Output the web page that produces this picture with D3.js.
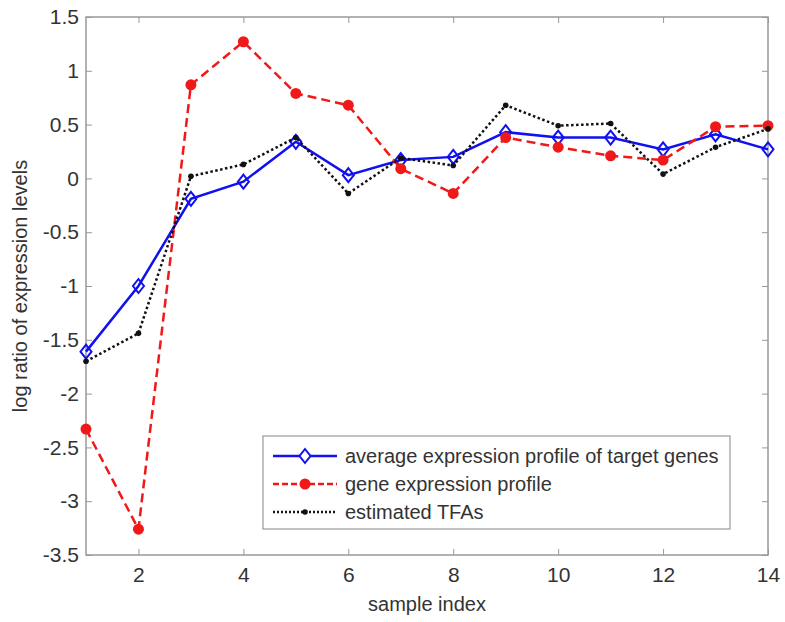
<!DOCTYPE html>
<html>
<head>
<meta charset="utf-8">
<script src="https://cdn.jsdelivr.net/npm/d3@7"></script>
<style>
  body { margin: 0; background: #fff; }
  text { font-family: "Liberation Sans", Arial, sans-serif; fill: #333; }
</style>
</head>
<body>
<div id="chart"></div>
<script>
// sample indices
var samples = [1, 2, 3, 4, 5, 6, 7, 8, 9, 10, 11, 12, 13, 14];

// average expression profile of target genes
var avgProfile = [-1.61, -1.0, -0.19, -0.03, 0.34, 0.03, 0.17, 0.2, 0.43, 0.38, 0.38, 0.27, 0.41, 0.27];
// gene expression profile
var geneProfile = [-2.33, -3.26, 0.87, 1.27, 0.79, 0.68, 0.09, -0.14, 0.38, 0.29, 0.21, 0.17, 0.48, 0.49];
// estimated TFAs
var tfaProfile = [-1.7, -1.44, 0.02, 0.13, 0.38, -0.14, 0.19, 0.12, 0.68, 0.49, 0.51, 0.04, 0.29, 0.46];

var xTicks = [2, 4, 6, 8, 10, 12, 14];
var yTicks = [1.5, 1, 0.5, 0, -0.5, -1, -1.5, -2, -2.5, -3, -3.5];

var seriesNames = ["average expression profile of target genes", "gene expression profile", "estimated TFAs"];

var W = 785, H = 622;
var margin = { top: 17, right: 17, bottom: 67, left: 86 };
var width = W - margin.left - margin.right,
    height = H - margin.top - margin.bottom;

var svg = d3.select("#chart").append("svg")
  .attr("width", W)
  .attr("height", H);

var g = svg.append("g")
  .attr("transform", "translate(" + margin.left + "," + margin.top + ")");

var x = d3.scaleLinear().domain([1, 14]).range([0, width]);
var y = d3.scaleLinear().domain([-3.5, 1.5]).range([height, 0]);

var axisColor = "#999";
var plainNum = function (d) { return String(d); }; // ascii hyphen like matlab

// axes, ticks pointing inward like matlab
function styleAxis(sel) {
  sel.select(".domain").remove();
  sel.selectAll(".tick line").attr("stroke", axisColor);
  sel.selectAll(".tick text").style("font-size", "21px").attr("fill", "#333");
}

g.append("g")
  .attr("transform", "translate(0," + height + ")")
  .call(d3.axisBottom(x).tickValues(xTicks).tickSizeInner(-6).tickPadding(12).tickFormat(plainNum))
  .call(styleAxis);

g.append("g")
  .call(d3.axisTop(x).tickValues(xTicks).tickSizeInner(-6).tickFormat(""))
  .call(styleAxis);

g.append("g")
  .call(d3.axisLeft(y).tickValues(yTicks).tickSizeInner(-6).tickPadding(7).tickFormat(plainNum))
  .call(styleAxis);

g.append("g")
  .attr("transform", "translate(" + width + ",0)")
  .call(d3.axisRight(y).tickValues(yTicks).tickSizeInner(-6).tickFormat(""))
  .call(styleAxis);

// box
g.append("rect")
  .attr("width", width)
  .attr("height", height)
  .attr("fill", "none")
  .attr("stroke", axisColor)
  .attr("stroke-width", 1.5);

// axis labels
svg.append("text")
  .attr("x", margin.left + width / 2)
  .attr("y", 611)
  .attr("text-anchor", "middle")
  .style("font-size", "20px")
  .text("sample index");

svg.append("text")
  .attr("transform", "translate(27," + (margin.top + height / 2) + ") rotate(-90)")
  .attr("text-anchor", "middle")
  .style("font-size", "20px")
  .text("log ratio of expression levels");

var line = d3.line()
  .x(function (d, i) { return x(samples[i]); })
  .y(function (d) { return y(d); });

var diamond = function (cx, cy) {
  return "M" + cx + "," + (cy - 7) + "L" + (cx + 5.5) + "," + cy + "L" + cx + "," + (cy + 7) + "L" + (cx - 5.5) + "," + cy + "Z";
};

// blue: average profile
g.append("path").datum(avgProfile)
  .attr("fill", "none").attr("stroke", "#1010f0").attr("stroke-width", 2.5)
  .attr("d", line);
g.selectAll(".dia").data(avgProfile).enter().append("path")
  .attr("class", "dia")
  .attr("d", function (d, i) { return diamond(x(samples[i]), y(d)); })
  .attr("fill", "none").attr("stroke", "#1010f0").attr("stroke-width", 2);

// red: gene profile
g.append("path").datum(geneProfile)
  .attr("fill", "none").attr("stroke", "#f01818").attr("stroke-width", 2.5)
  .attr("stroke-dasharray", "9,5")
  .attr("d", line);
g.selectAll(".rdot").data(geneProfile).enter().append("circle")
  .attr("class", "rdot")
  .attr("cx", function (d, i) { return x(samples[i]); })
  .attr("cy", function (d) { return y(d); })
  .attr("r", 5.5).attr("fill", "#f01818");

// black: estimated TFAs
g.append("path").datum(tfaProfile)
  .attr("fill", "none").attr("stroke", "#111").attr("stroke-width", 2.5)
  .attr("stroke-dasharray", "2.5,2.5")
  .attr("d", line);
g.selectAll(".kdot").data(tfaProfile).enter().append("circle")
  .attr("class", "kdot")
  .attr("cx", function (d, i) { return x(samples[i]); })
  .attr("cy", function (d) { return y(d); })
  .attr("r", 2.8).attr("fill", "#111");

// legend
var legend = svg.append("g").attr("transform", "translate(263,436)");
legend.append("rect")
  .attr("width", 467).attr("height", 93)
  .attr("fill", "#fff").attr("stroke", "#999").attr("stroke-width", 1.2);

var legStyles = [
  { color: "#1010f0", dash: null, marker: "diamond" },
  { color: "#f01818", dash: "6,3", marker: "circle" },
  { color: "#111", dash: "2,2", marker: "dot" }
];

var rows = legend.selectAll(".legrow").data(seriesNames).enter().append("g")
  .attr("class", "legrow")
  .attr("transform", function (d, i) { return "translate(0," + (20 + i * 28) + ")"; });

rows.append("line")
  .attr("x1", 10).attr("x2", 74).attr("y1", 0).attr("y2", 0)
  .attr("stroke", function (d, i) { return legStyles[i].color; })
  .attr("stroke-width", 2.5)
  .attr("stroke-dasharray", function (d, i) { return legStyles[i].dash; });

rows.each(function (d, i) {
  var r = d3.select(this);
  if (legStyles[i].marker === "diamond") {
    r.append("path").attr("d", diamond(42, 0)).attr("fill", "#fff")
      .attr("stroke", legStyles[i].color).attr("stroke-width", 2);
  } else {
    r.append("circle").attr("cx", 42).attr("cy", 0)
      .attr("r", legStyles[i].marker === "circle" ? 5.5 : 2.8)
      .attr("fill", legStyles[i].color);
  }
});

rows.append("text")
  .attr("x", 82).attr("dy", "0.35em")
  .style("font-size", "20px")
  .text(function (d) { return d; });
</script>
</body>
</html>
